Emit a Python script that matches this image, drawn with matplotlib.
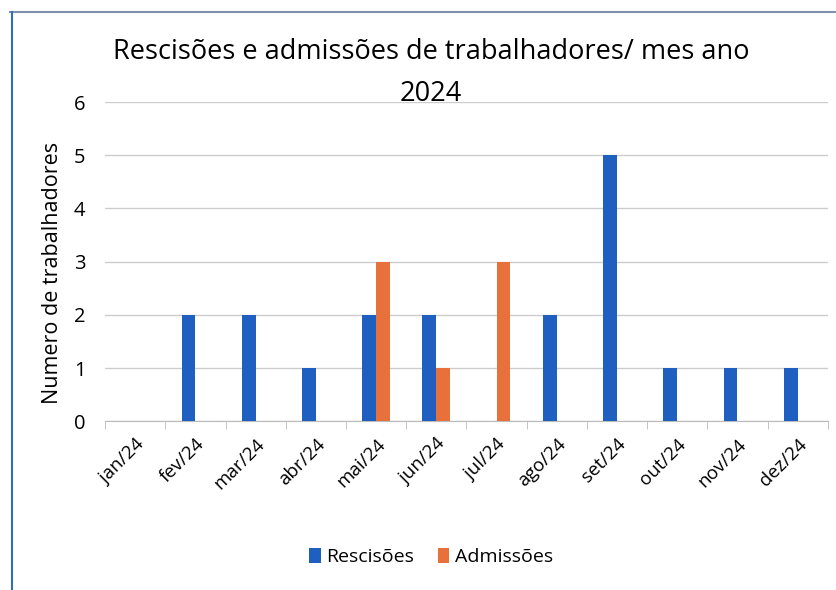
import matplotlib.pyplot as plt
import numpy as np

months = ['jan/24', 'fev/24', 'mar/24', 'abr/24', 'mai/24', 'jun/24',
          'jul/24', 'ago/24', 'set/24', 'out/24', 'nov/24', 'dez/24']
rescisoes = [0, 2, 2, 1, 2, 2, 0, 2, 5, 1, 1, 1]
admissoes = [0, 0, 0, 0, 3, 1, 3, 0, 0, 0, 0, 0]

plt.rcParams['font.family'] = ['Open Sans', 'DejaVu Sans']

fig = plt.figure(figsize=(8.37, 5.9), dpi=100)
ax = fig.add_axes([0.1255, 0.286, 0.8635, 0.541])

x = np.arange(len(months))
w = 0.23
ax.bar(x - w / 2, rescisoes, w, color='#1f5fc0', label='Rescisões', zorder=3)
ax.bar(x + w / 2, admissoes, w, color='#e8703a', label='Admissões', zorder=3)

ax.set_xlim(-0.5, len(months) - 0.5)
ax.set_ylim(0, 6)
ax.set_yticks(range(7))
ax.yaxis.grid(True, color='#cccccc', linewidth=1, zorder=0)
for s in ['top', 'right', 'left']:
    ax.spines[s].set_visible(False)
ax.spines['bottom'].set_color('#bbbbbb')
ax.tick_params(axis='y', length=0, labelsize=14.5, pad=14)
ax.set_xticks(x)
ax.set_xticklabels(months, rotation=45, ha='right', rotation_mode='anchor', fontsize=13.5)
ax.set_xticks(np.arange(-0.5, len(months)), minor=True)
ax.tick_params(axis='x', which='major', length=0, pad=10)
ax.tick_params(axis='x', which='minor', length=6, color='#bbbbbb')
ax.set_ylabel('Numero de trabalhadores', fontsize=15.5)
ax.yaxis.set_label_coords(-0.058, 0.465)

fig.text(0.515, 0.912, 'Rescisões e admissões de trabalhadores/ mes ano',
         ha='center', va='center', fontsize=19.5)
fig.text(0.515, 0.84, '2024', ha='center', va='center', fontsize=19.5)

fig.legend(loc='center', bbox_to_anchor=(0.515, 0.056), ncol=2, frameon=False,
           fontsize=14, handlelength=0.6, handleheight=0.8, handletextpad=0.3,
           columnspacing=1.2)

# scanned frame edges
fig.add_artist(plt.Line2D([0.012, 1.0], [0.979, 0.979], color='#8090b0', linewidth=1.5))
fig.add_artist(plt.Line2D([0.014, 0.014], [0.0, 0.979], color='#3070b0', linewidth=1.5))

fig.savefig('out.png', dpi=100)
